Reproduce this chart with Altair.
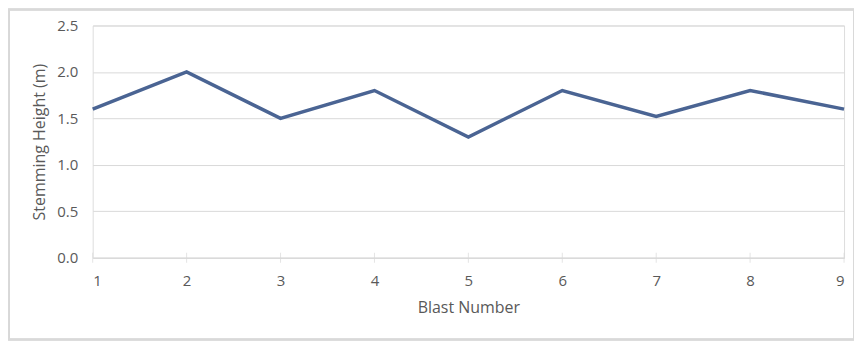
import altair as alt
import pandas as pd

blast = [1, 2, 3, 4, 5, 6, 7, 8, 9]
height = [1.6, 2.0, 1.5, 1.8, 1.3, 1.8, 1.52, 1.8, 1.6]

df = pd.DataFrame({"Blast Number": blast, "Stemming Height (m)": height})

FONT = "Open Sans"
GRAY = "#595959"
GRID = "#d9d9d9"

xscale = alt.Scale(domain=[1, 9], nice=False, zero=False)

line = alt.Chart(df).mark_line(color="#4a6493", strokeWidth=3.5).encode(
    x=alt.X("Blast Number:Q", scale=xscale,
            axis=alt.Axis(values=blast, format="d", grid=False, domainColor=GRID,
                          ticks=False, labelPadding=16,
                          labelColor=GRAY, labelFont=FONT, labelFontSize=15,
                          title="Blast Number", titleColor=GRAY, titleFont=FONT,
                          titleFontSize=16, titleFontWeight="normal", titlePadding=11)),
    y=alt.Y("Stemming Height (m):Q",
            scale=alt.Scale(domain=[0, 2.5], nice=False),
            axis=alt.Axis(values=[0, 0.5, 1.0, 1.5, 2.0, 2.5], format=".1f", domain=False,
                          ticks=False, gridColor=GRID, labelPadding=15,
                          labelColor=GRAY, labelFont=FONT, labelFontSize=15,
                          title="Stemming Height (m)", titleColor=GRAY, titleFont=FONT,
                          titleFontSize=16, titleFontWeight="normal", titlePadding=9)),
)

ticks = alt.Chart(df).mark_tick(color=GRID, size=10, thickness=1, orient="vertical").encode(
    x=alt.X("Blast Number:Q", scale=xscale), y=alt.value(233)
)

border = alt.Chart(df).mark_rect(fill=None, stroke="#d9d9d9", strokeWidth=1.5).encode(
    x=alt.value(-84), x2=alt.value(764), y=alt.value(-16), y2=alt.value(315)
)

chart = alt.layer(border, ticks, line).properties(
    width=754, height=233,
    autosize=alt.AutoSizeParams(type="none"),
    padding={"left": 85, "top": 17, "right": 10, "bottom": 83},
).configure_view(stroke=None).configure(background="white")

chart.save("out.html", embed_options={"renderer": "svg", "actions": False})
